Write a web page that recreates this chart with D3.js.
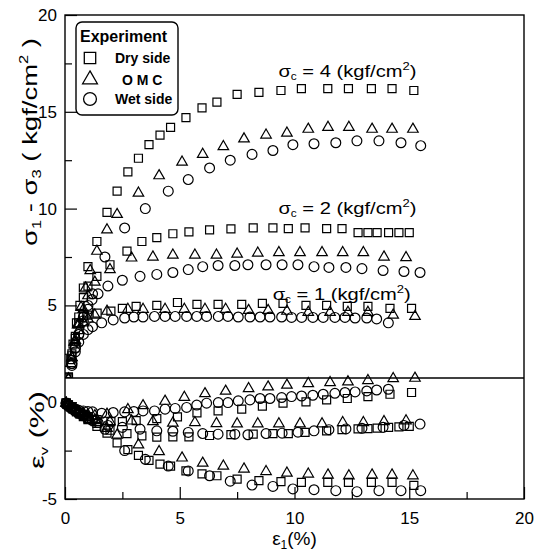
<!DOCTYPE html>
<html>
<head>
<meta charset="utf-8">
<script src="https://d3js.org/d3.v7.min.js"></script>
<style>
body { margin: 0; background: #fff; }
svg { font-family: "Liberation Sans", Arial, sans-serif; }
</style>
</head>
<body>
<svg id="svg"></svg>
<script>
// axial strain (%), deviator stress (kgf/cm2), volumetric strain (%) per test

// sigma_c = 4, dry side
var dry4Strain = [0.05,0.15,0.25,0.35,0.5,0.65,0.8,1.0,1.39,1.83,2.27,2.74,3.2,3.66,4.14,4.6,5.27,5.97,6.62,7.5,8.45,9.41,10.3,11.45,12.35,13.35,14.25,15.2];
var dry4Stress = [0.4,1.3,2.2,3.0,4.1,5.0,5.9,7.0,8.3,9.8,10.9,11.9,12.6,13.3,13.8,14.2,14.7,15.2,15.5,15.9,16.0,16.1,16.2,16.2,16.2,16.2,16.2,16.1];
var dry4Vol    = [-0.05,-0.15,-0.25,-0.35,-0.5,-0.62,-0.75,-0.9,-1.25,-1.6,-2.1,-2.45,-2.75,-3.0,-3.2,-3.3,-3.55,-3.7,-3.8,-3.97,-4.05,-4.1,-4.14,-4.14,-4.14,-4.14,-4.14,-4.3];

// sigma_c = 4, OMC
var omc4Strain = [0.05,0.15,0.25,0.4,0.55,0.7,0.9,1.1,1.39,1.83,2.27,3.2,4.1,5.1,6.0,6.9,7.8,8.76,9.67,10.6,11.46,12.37,13.38,14.25,15.16];
var omc4Stress = [0.4,1.2,2.0,3.1,4.0,4.9,5.9,6.8,7.8,8.9,9.7,10.8,11.7,12.4,12.8,13.2,13.6,13.8,13.9,14.1,14.2,14.2,14.1,14.1,14.1];
var omc4Vol    = [-0.05,-0.15,-0.25,-0.38,-0.5,-0.6,-0.75,-0.88,-1.05,-1.35,-1.7,-2.2,-2.55,-2.88,-3.15,-3.3,-3.45,-3.58,-3.66,-3.71,-3.76,-3.8,-3.76,-3.76,-3.8];

// sigma_c = 4, wet side
var wet4Strain = [0.05,0.15,0.3,0.45,0.6,0.8,1.0,1.2,1.74,2.6,3.5,4.5,5.37,6.3,7.2,8.15,9.06,9.93,10.85,11.8,12.72,13.68,14.64,15.5];
var wet4Stress = [0.3,1.0,2.0,2.8,3.5,4.4,5.0,5.6,7.5,9.0,10.0,10.9,11.5,12.1,12.5,12.8,13.0,13.3,13.35,13.4,13.5,13.5,13.4,13.25];
var wet4Vol    = [-0.05,-0.15,-0.3,-0.42,-0.55,-0.7,-0.82,-0.95,-1.4,-2.5,-2.95,-3.3,-3.55,-3.8,-4.08,-4.28,-4.35,-4.48,-4.52,-4.57,-4.62,-4.57,-4.57,-4.57];

// sigma_c = 2, dry side
var dry2Strain = [0.05,0.15,0.3,0.45,0.6,0.8,1.0,1.39,1.96,2.7,3.35,4.0,4.7,5.4,6.3,7.23,8.2,9.06,9.73,10.46,11.4,12.07,12.77,13.2,13.6,14.1,14.55,15.0];
var dry2Stress = [0.4,1.2,2.4,3.3,4.4,5.4,6.0,6.5,7.1,7.8,8.3,8.5,8.7,8.8,8.9,8.95,9.0,9.0,8.97,9.0,8.97,8.97,8.76,8.76,8.76,8.76,8.76,8.76];
var dry2Vol    = [-0.05,-0.15,-0.3,-0.42,-0.55,-0.7,-0.85,-1.1,-1.45,-1.62,-1.74,-1.8,-1.79,-1.79,-1.72,-1.68,-1.65,-1.62,-1.62,-1.56,-1.48,-1.42,-1.38,-1.36,-1.34,-1.3,-1.27,-1.25];

// sigma_c = 2, OMC
var omc2Strain = [0.05,0.15,0.3,0.45,0.6,0.8,1.0,1.3,1.96,2.9,3.83,4.7,5.66,6.6,7.5,8.4,9.32,10.24,11.2,12.1,13.0,13.9,14.86];
var omc2Stress = [0.4,1.2,2.3,3.2,4.0,4.8,5.5,6.2,6.85,7.45,7.5,7.6,7.6,7.6,7.65,7.7,7.73,7.73,7.73,7.73,7.73,7.5,7.47];
var omc2Vol    = [-0.05,-0.15,-0.28,-0.4,-0.52,-0.65,-0.77,-0.9,-1.0,-0.97,-1.0,-1.08,-1.05,-1.1,-1.12,-1.12,-1.12,-1.12,-1.12,-1.05,-1.05,-1.0,-0.96];

// sigma_c = 2, wet side
var wet2Strain = [0.05,0.15,0.3,0.45,0.6,0.8,1.0,1.18,1.44,1.87,2.5,3.27,4.0,4.7,5.37,6.0,6.67,7.4,7.97,8.76,9.46,10.15,10.85,11.5,12.24,12.94,13.86,14.77,15.47];
var wet2Stress = [0.3,1.0,2.0,2.8,3.5,4.2,4.8,5.3,5.6,6.0,6.3,6.5,6.6,6.7,6.85,7.0,7.06,7.06,7.1,7.1,7.1,7.1,7.0,6.96,6.96,6.9,6.8,6.75,6.7];
var wet2Vol    = [-0.05,-0.15,-0.3,-0.42,-0.55,-0.68,-0.8,-0.92,-1.05,-1.2,-1.3,-1.39,-1.48,-1.5,-1.56,-1.62,-1.65,-1.65,-1.68,-1.62,-1.6,-1.55,-1.48,-1.42,-1.38,-1.35,-1.3,-1.2,-1.13];

// sigma_c = 1, dry side
var dry1Strain = [0.05,0.15,0.3,0.45,0.6,0.8,1.0,1.4,2.0,2.5,3.1,4.0,4.9,5.75,6.67,7.7,8.6,9.5,10.5,11.4,12.3,13.2,14.16,15.1];
var dry1Stress = [0.4,1.3,2.5,3.4,4.1,4.5,4.5,4.6,4.7,4.85,4.95,5.0,5.15,5.05,5.05,5.05,5.1,5.1,5.0,5.0,4.95,4.95,4.85,4.85];
var dry1Vol    = [-0.05,-0.15,-0.28,-0.4,-0.52,-0.63,-0.75,-0.9,-1.0,-1.0,-0.95,-0.85,-0.76,-0.55,-0.45,-0.36,-0.2,-0.05,0.02,0.12,0.19,0.29,0.41,0.5];

// sigma_c = 1, OMC
var omc1Strain = [0.05,0.15,0.3,0.45,0.6,0.8,1.0,1.3,1.83,2.74,3.4,4.36,5.2,6.1,7.0,8.0,8.85,9.67,10.6,11.55,12.33,13.2,14.3,15.25];
var omc1Stress = [0.4,1.2,2.3,3.1,3.7,4.1,4.3,4.5,4.7,4.8,4.8,4.8,4.8,4.8,4.8,4.74,4.74,4.7,4.64,4.64,4.64,4.64,4.5,4.43];
var omc1Vol    = [-0.05,-0.15,-0.27,-0.38,-0.48,-0.58,-0.65,-0.7,-0.62,-0.38,-0.18,0.05,0.25,0.44,0.57,0.7,0.79,0.88,0.96,1.01,1.05,1.12,1.22,1.24];

// sigma_c = 1, wet side
var wet1Strain = [0.05,0.15,0.3,0.45,0.6,0.8,1.0,1.2,1.6,2.1,2.6,3.0,3.4,3.9,4.36,4.8,5.3,5.74,6.17,6.68,7.1,7.55,8.06,8.5,8.93,9.44,9.87,10.31,10.8,11.25,11.76,12.2,12.64,13.15,13.58,14.09];
var wet1Stress = [0.3,1.0,1.9,2.6,3.1,3.5,3.75,3.9,4.1,4.25,4.35,4.4,4.4,4.43,4.43,4.43,4.43,4.43,4.43,4.43,4.43,4.4,4.4,4.4,4.4,4.4,4.38,4.38,4.38,4.38,4.38,4.38,4.35,4.35,4.3,4.1];
var wet1Vol    = [-0.05,-0.15,-0.27,-0.35,-0.42,-0.45,-0.48,-0.5,-0.57,-0.53,-0.5,-0.48,-0.45,-0.45,-0.36,-0.32,-0.27,-0.15,-0.05,-0.02,-0.02,0.07,0.12,0.19,0.19,0.24,0.29,0.32,0.36,0.41,0.46,0.5,0.53,0.58,0.63,0.67];

var legendNames = ["Dry side", "O M C", "Wet side"];
var legendShapes = ["square", "triangle", "circle"];
var xTicks = [0, 5, 10, 15, 20];
var xMinorTicks = [2.5, 7.5, 12.5, 17.5];
var yTicks = [-5, 0, 5, 10, 15, 20];
var yMinorTicks = [-2.5, 2.5, 7.5, 12.5, 17.5];
var splitValue = 1.25;   // stress panel above, volumetric strain below
var stressLabels = [
    {sc: "4", at: [9.3, 16.8]},
    {sc: "2", at: [9.3, 9.7]},
    {sc: "1", at: [9.05, 5.3]}
];

//////////////////////////////////////////////////////////////////////////////

var tests = [
    {strain: dry4Strain, stress: dry4Stress, vol: dry4Vol, shape: "square"},
    {strain: omc4Strain, stress: omc4Stress, vol: omc4Vol, shape: "triangle"},
    {strain: wet4Strain, stress: wet4Stress, vol: wet4Vol, shape: "circle"},
    {strain: dry2Strain, stress: dry2Stress, vol: dry2Vol, shape: "square"},
    {strain: omc2Strain, stress: omc2Stress, vol: omc2Vol, shape: "triangle"},
    {strain: wet2Strain, stress: wet2Stress, vol: wet2Vol, shape: "circle"},
    {strain: dry1Strain, stress: dry1Stress, vol: dry1Vol, shape: "square"},
    {strain: omc1Strain, stress: omc1Stress, vol: omc1Vol, shape: "triangle"},
    {strain: wet1Strain, stress: wet1Stress, vol: wet1Vol, shape: "circle"}
];

var width = 544, height = 555;
var x = d3.scaleLinear().domain([0, 20]).range([65, 524]);
var y = d3.scaleLinear().domain([-5, 20]).range([499, 15]);

var svg = d3.select("#svg").attr("width", width).attr("height", height);

var symbolTypes = {square: d3.symbolSquare, triangle: d3.symbolTriangle, circle: d3.symbolCircle};
var plotSizes = {square: 64, triangle: 48, circle: 76};
var legendSizes = {square: 130, triangle: 95, circle: 130};

function symbolPath(shape, size) {
    return d3.symbol().type(symbolTypes[shape]).size(size)();
}

svg.append("clipPath").attr("id", "stressClip")
    .append("rect")
    .attr("x", x(0)).attr("y", y(20))
    .attr("width", x(20) - x(0)).attr("height", y(splitValue) - y(20));

var stressG = svg.append("g").attr("clip-path", "url(#stressClip)");
var volG = svg.append("g");

tests.forEach(function(t) {
    var stressPts = t.strain.map(function(e, i) { return [e, t.stress[i]]; });
    var volPts = t.strain.map(function(e, i) { return [e, t.vol[i]]; });
    var path = symbolPath(t.shape, plotSizes[t.shape]);
    [[stressG, stressPts], [volG, volPts]].forEach(function(p) {
        p[0].selectAll(null).data(p[1]).enter().append("path")
            .attr("d", path)
            .attr("transform", function(d) { return "translate(" + x(d[0]) + "," + y(d[1]) + ")"; })
            .attr("fill", "none")
            .attr("stroke", "#000")
            .attr("stroke-width", 1.2);
    });
});

// frame and divider
svg.append("rect")
    .attr("x", x(0)).attr("y", y(20))
    .attr("width", x(20) - x(0)).attr("height", y(-5) - y(20))
    .attr("fill", "none").attr("stroke", "#000").attr("stroke-width", 1.4);
svg.append("line")
    .attr("x1", x(0)).attr("x2", x(20))
    .attr("y1", y(splitValue)).attr("y2", y(splitValue))
    .attr("stroke", "#000").attr("stroke-width", 1.4);

// axes (ticks point inward)
function styleAxis(g) {
    g.select(".domain").remove();
    g.selectAll(".tick line").attr("stroke", "#000").attr("stroke-width", 1.2);
    g.selectAll(".tick text").attr("fill", "#000").attr("font-size", 17)
        .attr("font-family", "Liberation Sans, Arial, sans-serif");
}
svg.append("g").attr("transform", "translate(" + x(0) + ",0)")
    .call(d3.axisLeft(y).tickValues(yTicks).tickSize(-12).tickPadding(8).tickFormat(function(d) { return String(d); }))
    .call(styleAxis);
svg.append("g").attr("transform", "translate(" + x(0) + ",0)")
    .call(d3.axisLeft(y).tickValues(yMinorTicks).tickSize(-7).tickFormat(""))
    .call(styleAxis);
svg.append("g").attr("transform", "translate(0," + y(-5) + ")")
    .call(d3.axisBottom(x).tickValues(xTicks).tickSize(-12).tickPadding(13).tickFormat(function(d) { return String(d); }))
    .call(styleAxis);
svg.append("g").attr("transform", "translate(0," + y(-5) + ")")
    .call(d3.axisBottom(x).tickValues(xMinorTicks).tickSize(-7).tickFormat(""))
    .call(styleAxis);

// axis titles
var yTitle = svg.append("text")
    .attr("transform", "translate(37,142) rotate(-90)")
    .attr("text-anchor", "middle").attr("font-size", 20)
    .attr("textLength", 208).attr("lengthAdjust", "spacingAndGlyphs");
yTitle.append("tspan").text("σ");
yTitle.append("tspan").attr("font-size", 12).attr("dy", 4).text("1");
yTitle.append("tspan").attr("dy", -4).text(" - σ");
yTitle.append("tspan").attr("font-size", 12).attr("dy", 4).text("3");
yTitle.append("tspan").attr("dy", -4).text(" ( kgf/cm");
yTitle.append("tspan").attr("font-size", 12).attr("dy", -9).text("2");
yTitle.append("tspan").attr("dy", 9).text(" )");

var vTitle = svg.append("text")
    .attr("transform", "translate(44,430) rotate(-90)")
    .attr("text-anchor", "middle").attr("font-size", 20)
    .attr("textLength", 78).attr("lengthAdjust", "spacingAndGlyphs");
vTitle.append("tspan").text("ε");
vTitle.append("tspan").attr("font-size", 11).attr("dy", 4).text("v");
vTitle.append("tspan").attr("dy", -4).text(" (%)");

var xTitle = svg.append("text")
    .attr("x", x(10)).attr("y", 545)
    .attr("text-anchor", "middle").attr("font-size", 19);
xTitle.append("tspan").text("ε");
xTitle.append("tspan").attr("font-size", 12).attr("dy", 4).text("1");
xTitle.append("tspan").attr("dy", -4).text("(%)");

// confining pressure labels
stressLabels.forEach(function(l) {
    var t = svg.append("text")
        .attr("x", x(l.at[0])).attr("y", y(l.at[1]))
        .attr("font-size", 17)
        .attr("textLength", 138).attr("lengthAdjust", "spacingAndGlyphs");
    t.append("tspan").text("σ");
    t.append("tspan").attr("font-size", 10).attr("dy", 3).text("c");
    t.append("tspan").attr("dy", -3).text(" = " + l.sc + " (kgf/cm");
    t.append("tspan").attr("font-size", 11).attr("dy", -7).text("2");
    t.append("tspan").attr("dy", 7).text(")");
});

// legend
var legend = svg.append("g");
legend.append("rect")
    .attr("x", 76).attr("y", 22).attr("width", 102).attr("height", 93)
    .attr("rx", 6).attr("ry", 6)
    .attr("fill", "#fff").attr("stroke", "#000").attr("stroke-width", 1.4);
legend.append("text").attr("x", 80).attr("y", 42)
    .attr("font-size", 16).attr("font-weight", "bold").text("Experiment");
legendNames.forEach(function(name, i) {
    var cy = [58, 79.5, 99][i];
    legend.append("path")
        .attr("d", symbolPath(legendShapes[i], legendSizes[legendShapes[i]]))
        .attr("transform", "translate(90," + cy + ")")
        .attr("fill", "none").attr("stroke", "#000").attr("stroke-width", 1.3);
    legend.append("text")
        .attr("x", i === 1 ? 122 : 115).attr("y", cy + 5)
        .attr("font-size", 14).attr("font-weight", "bold").text(name);
});
</script>
</body>
</html>
